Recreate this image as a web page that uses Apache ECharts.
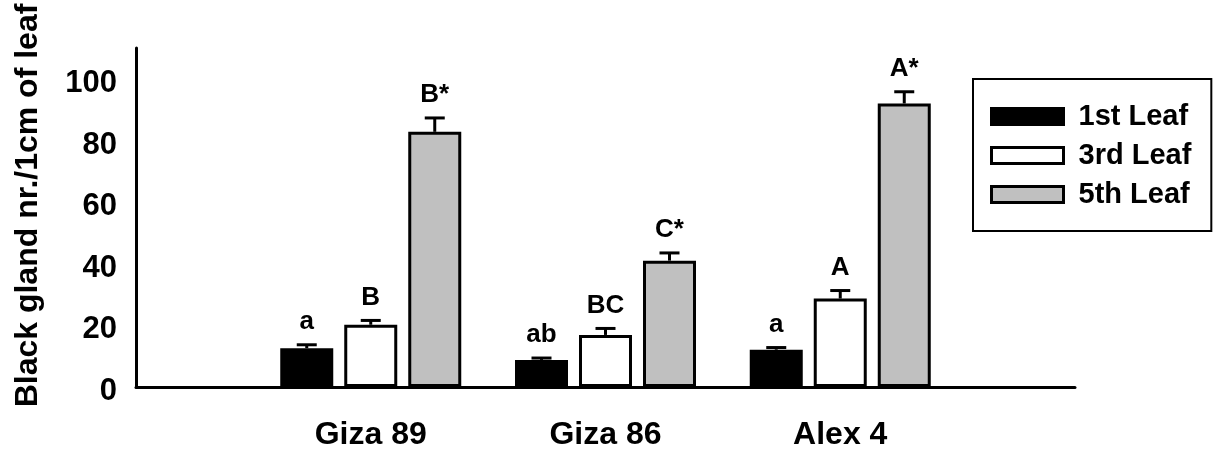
<!DOCTYPE html>
<html>
<head>
<meta charset="utf-8">
<script src="https://cdn.jsdelivr.net/npm/echarts@6/dist/echarts.min.js"></script>
<style>
  html, body { margin: 0; padding: 0; background: #fff; }
  #chart { width: 1215px; height: 455px; }
</style>
</head>
<body>
<div id="chart"></div>
<script>
// values
const categories = ['Giza 89', 'Giza 86', 'Alex 4']
const seriesNames = ['1st Leaf', '3rd Leaf', '5th Leaf']
const leaf1 = [12.6, 8.8, 12.1]
const leaf3 = [20.2, 16.9, 28.7]
const leaf5 = [82.8, 41.0, 92.0]
const err1 = [1.1, 0.6, 0.7]
const err3 = [1.4, 2.1, 2.6]
const err5 = [4.5, 2.5, 3.8]
const sig1 = ['a', 'ab', 'a']
const sig3 = ['B', 'BC', 'A']
const sig5 = ['B*', 'C*', 'A*']
const yMin = 0
const yMax = 110
const yStep = 20

const FONT = '"Liberation Sans", Arial, sans-serif'
const BAR_W = 53
const BAR_GAP = 11
const fills = ['#000000', '#ffffff', '#c0c0c0']

// empty slot at each end so the groups sit inside the long axis
const xData = [''].concat(categories, [''])
const pad = arr => ['-'].concat(arr, ['-'])

const values = [leaf1, leaf3, leaf5]
const errs = [err1, err3, err5]
const sigs = [sig1, sig3, sig5]

let barSeries = values.map((v, i) => ({
  name: seriesNames[i],
  type: 'bar',
  data: pad(v),
  barWidth: BAR_W,
  barGap: (BAR_GAP / BAR_W * 100) + '%',
  itemStyle: { color: fills[i], borderColor: '#000', borderWidth: 3 }
}))

let errData = []
for (let s = 0; s < 3; s++) {
  for (let c = 0; c < categories.length; c++) {
    errData.push([c + 1, values[s][c], errs[s][c], s, sigs[s][c]])
  }
}

const errSeries = {
  type: 'custom',
  data: errData,
  encode: { x: 0, y: 1 },
  z: 5,
  silent: true,
  renderItem (params, api) {
    let s = api.value(3)
    let offset = (s - 1) * (BAR_W + BAR_GAP)
    let base = api.coord([api.value(0), api.value(1)])
    let top = api.coord([api.value(0), api.value(1) + api.value(2)])
    let x = base[0] + offset
    let label = errData[params.dataIndex][4]
    return {
      type: 'group',
      children: [
        { type: 'line', shape: { x1: x, y1: base[1], x2: x, y2: top[1] }, style: { stroke: '#000', lineWidth: 3 } },
        { type: 'line', shape: { x1: x - 10, y1: top[1], x2: x + 10, y2: top[1] }, style: { stroke: '#000', lineWidth: 3 } },
        {
          type: 'text',
          style: {
            text: label, x: x, y: top[1] - 10,
            align: 'center', verticalAlign: 'bottom',
            fill: '#000', font: 'bold 26px ' + FONT
          }
        }
      ]
    }
  }
}

const chart = echarts.init(document.getElementById('chart'))
chart.setOption({
  animation: false,
  backgroundColor: '#fff',
  textStyle: { fontFamily: FONT },
  grid: { left: 136, right: 140, top: 48, bottom: 68, containLabel: false, outerBoundsMode: 'none' },
  legend: {
    data: seriesNames,
    orient: 'vertical',
    left: 973,
    top: 79,
    padding: [23, 20, 22, 17],
    itemWidth: 72,
    itemHeight: 16,
    itemGap: 10,
    icon: 'rect',
    borderColor: '#000',
    borderWidth: 2,
    borderRadius: 0,
    itemStyle: { borderColor: '#000', borderWidth: 3 },
    textStyle: { fontSize: 29, fontWeight: 'bold', color: '#000', fontFamily: FONT, padding: [0, 0, 0, 10] }
  },
  xAxis: {
    type: 'category',
    data: xData,
    boundaryGap: false,
    axisLine: { lineStyle: { color: '#000', width: 3 } },
    axisTick: { show: false },
    splitLine: { show: false },
    axisLabel: { color: '#000', fontSize: 32, fontWeight: 'bold', fontFamily: FONT, margin: 32, interval: 0 }
  },
  yAxis: {
    type: 'value',
    min: yMin,
    max: yMax,
    interval: yStep,
    name: 'Black gland nr./1cm of leaf',
    nameLocation: 'middle',
    nameRotate: 90,
    nameGap: 92,
    nameTextStyle: { fontSize: 32, fontWeight: 'bold', color: '#000', fontFamily: FONT, padding: [0, 0, 0, 24] },
    axisLine: { show: true, lineStyle: { color: '#000', width: 3 } },
    axisTick: { show: false },
    splitLine: { show: false },
    axisLabel: {
      margin: 19,
      showMaxLabel: false,
      formatter: '{v|{value}}',
      rich: {
        v: { color: '#000', fontSize: 31, fontWeight: 'bold', fontFamily: FONT, padding: [9, 0, 0, 0] }
      }
    }
  },
  series: barSeries.concat([errSeries])
})
</script>
</body>
</html>
